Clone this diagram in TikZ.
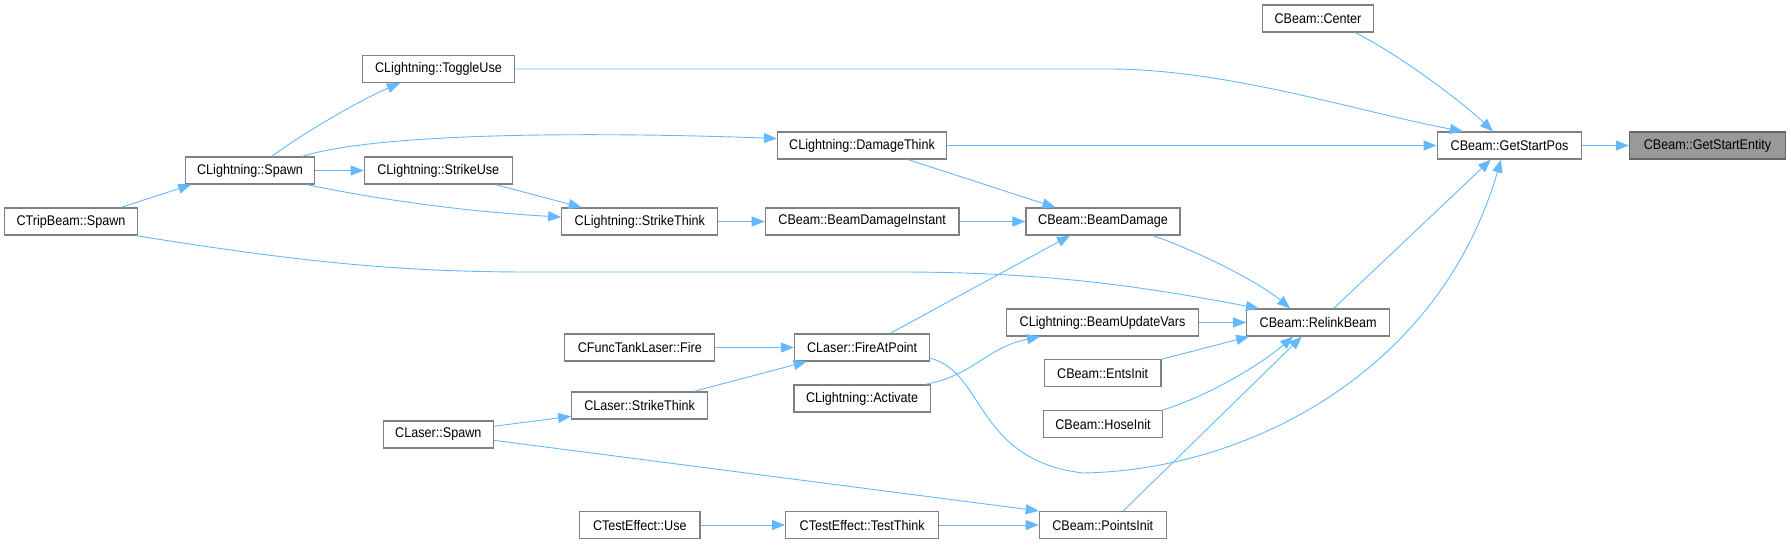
\documentclass[tikz,border=0pt]{standalone}
\usepackage{fontspec}
\setmainfont{Liberation Sans}[FakeStretch=0.9]
\usetikzlibrary{arrows.meta}
\definecolor{CallEdge}{HTML}{63B8FF}
\definecolor{BoxLine}{HTML}{808080}
\definecolor{CurFill}{HTML}{999999}

\begin{document}
\begin{tikzpicture}[x=1pt, y=-1pt,
    fn/.style={
      rectangle, draw=BoxLine, line width=1.2pt, fill=white, minimum width=#1,
      minimum height=27pt, inner xsep=1pt, inner ysep=0pt, font=\fontsize{14}{16}\selectfont
    },
    cur/.style={fn=#1, fill=CurFill, draw=BoxLine!80!black},
    call/.style={draw=CallEdge, line width=0.9pt, -{Triangle[length=13pt, width=10pt]}}
  ]
    \useasboundingbox (0,0) rectangle (1791,544);

    \node[cur=156pt] (startent) at (1707.5,145.5) {CBeam::GetStartEntity};
    \node[fn=144.5pt] (startpos) at (1509.5,145.5) {CBeam::GetStartPos};
    \node[fn=110.8pt] (center) at (1318,18.5) {CBeam::Center};
    \node[fn=143pt] (relink) at (1318.2,322.5) {CBeam::RelinkBeam};

    \node[fn=169pt] (damage) at (862,145.5) {CLightning::DamageThink};
    \node[fn=193.6pt] (bdinstant) at (862.1,221.5) {CBeam::BeamDamageInstant};
    \node[fn=154pt] (beamdmg) at (1103,221.5) {CBeam::BeamDamage};
    \node[fn=135.4pt] (firepoint) at (862.1,347.5) {CLaser::FireAtPoint};
    \node[fn=136.2pt] (activate) at (862.1,398.5) {CLightning::Activate};
    \node[fn=153pt] (tethink) at (862.2,525) {CTestEffect::TestThink};

    \node[fn=192.4pt] (updvars) at (1102.6,322.5) {CLightning::BeamUpdateVars};
    \node[fn=116.7pt] (entsinit) at (1102.7,373.3) {CBeam::EntsInit};
    \node[fn=119.4pt] (hoseinit) at (1103,424) {CBeam::HoseInit};
    \node[fn=127pt] (pointsinit) at (1102.8,525) {CBeam::PointsInit};

    \node[fn=151.6pt] (toggle) at (438.5,69) {CLightning::ToggleUse};
    \node[fn=148pt] (strikeuse) at (438.3,170.5) {CLightning::StrikeUse};
    \node[fn=129.7pt] (lspawn) at (250,170.5) {CLightning::Spawn};
    \node[fn=133pt] (tripspawn) at (71,221.5) {CTripBeam::Spawn};
    \node[fn=156pt] (lstrike) at (639.8,221.5) {CLightning::StrikeThink};

    \node[fn=150pt] (tankfire) at (639.8,347.5) {CFuncTankLaser::Fire};
    \node[fn=135.8pt] (xstrike) at (639.6,405.5) {CLaser::StrikeThink};
    \node[fn=109.8pt] (xspawn) at (438.3,434.5) {CLaser::Spawn};
    \node[fn=120.2pt] (teuse) at (639.8,525) {CTestEffect::Use};

    \draw[call] (startpos) -- (startent);
    \draw[call] ([xshift=37pt]center.south) .. controls (1395,52) and (1460,100) .. ([xshift=-16.5pt]startpos.north);
    \draw[call] (toggle.east) -- (1113,69) .. controls (1230,70) and (1360,112) .. ([xshift=-46.5pt]startpos.north);
    \draw[call] (damage) -- (startpos);
    \draw[call] ([xshift=15.5pt]relink.north) -- ([xshift=-18.6pt]startpos.south);
    \draw[call] ([yshift=-10.8pt]firepoint.east) .. controls (985,372) and (975,460) .. (1083,473)
      .. controls (1250,470) and (1440,370) .. ([xshift=-8.5pt]startpos.south);

    \draw[call] ([xshift=22pt]lspawn.north) .. controls (300,135) and (360,100) .. ([xshift=-38.5pt]toggle.south);
    \draw[call] ([xshift=52pt]lspawn.north) .. controls (380,132) and (600,132) .. ([yshift=7pt]damage.west);
    \draw[call] (lspawn) -- (strikeuse);
    \draw[call] ([xshift=56.7pt]lspawn.south) .. controls (380,200) and (470,212) .. ([yshift=4.5pt]lstrike.west);
    \draw[call] ([xshift=57.2pt]strikeuse.south) -- ([xshift=-58.2pt]lstrike.north);
    \draw[call] ([xshift=50pt]tripspawn.north) -- ([xshift=-58.7pt]lspawn.south);
    \draw[call] ([xshift=64.7pt]tripspawn.south) .. controls (300,262) and (400,272) .. (530,272)
      -- (900,272) .. controls (1060,272) and (1160,290) .. ([xshift=-59.2pt]relink.north);

    \draw[call] (lstrike) -- (bdinstant);
    \draw[call] (bdinstant) -- (beamdmg);
    \draw[call] ([xshift=46pt]damage.south) -- ([xshift=-47.6pt]beamdmg.north);
    \draw[call] ([xshift=50pt]beamdmg.south) .. controls (1200,252) and (1260,283) .. ([xshift=-28pt]relink.north);
    \draw[call] ([xshift=28pt]firepoint.north) -- ([xshift=-33pt]beamdmg.south);

    \draw[call] (tankfire) -- (firepoint);
    \draw[call] ([xshift=54.1pt]xstrike.north) -- ([xshift=-55.5pt]firepoint.south);
    \draw[call] ([yshift=8.2pt]xspawn.east) -- ([yshift=-10.8pt]xstrike.west);
    \draw[call] ([yshift=-5.8pt]xspawn.east) -- (pointsinit.north west);

    \draw[call] ([xshift=63pt]activate.north) .. controls (975,375) and (985,348) .. ([xshift=-62.6pt]updvars.south);
    \draw[call] (updvars) -- (relink);
    \draw[call] (entsinit.north east) -- ([xshift=3pt]relink.south west);
    \draw[call] (hoseinit.north east) .. controls (1210,395) and (1260,365) .. ([xshift=-25pt]relink.south);
    \draw[call] ([xshift=20.5pt]pointsinit.north) -- ([xshift=-16.5pt]relink.south);

    \draw[call] (teuse) -- (tethink);
    \draw[call] (tethink) -- (pointsinit);
  \end{tikzpicture}
\end{document}
